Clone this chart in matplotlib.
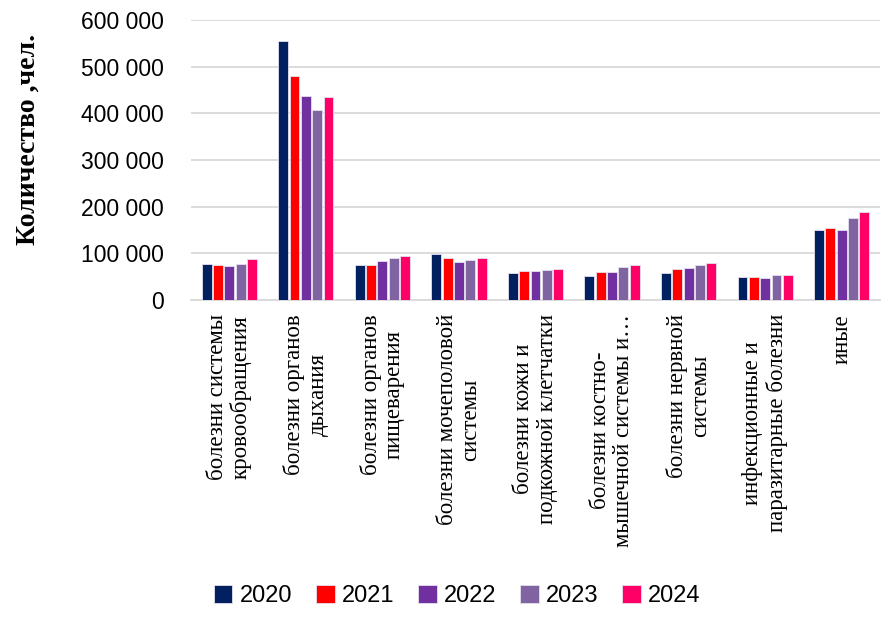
import numpy as np
import matplotlib
matplotlib.use("Agg")
import matplotlib.pyplot as plt

categories = [
    "болезни системы\nкровообращения",
    "болезни органов\nдыхания",
    "болезни органов\nпищеварения",
    "болезни мочеполовой\nсистемы",
    "болезни кожи и\nподкожной клетчатки",
    "болезни костно-\nмышечной системы и…",
    "болезни нервной\nсистемы",
    "инфекционные и\nпаразитарные болезни",
    "иные",
]
years = ["2020", "2021", "2022", "2023", "2024"]
colors = ["#002060", "#FF0000", "#7030A0", "#8064A2", "#FF0066"]

v2020 = [77000, 554000, 76000, 98000, 57000, 52000, 57000, 49000, 151000]
v2021 = [75000, 479000, 76000, 91000, 62000, 59000, 66000, 49000, 154000]
v2022 = [72000, 438000, 83000, 81000, 62000, 61000, 69000, 47000, 151000]
v2023 = [77000, 408000, 91000, 86000, 64000, 70000, 76000, 53000, 175000]
v2024 = [88000, 436000, 94000, 91000, 66000, 74000, 80000, 54000, 188000]
series = [v2020, v2021, v2022, v2023, v2024]

fig = plt.figure(figsize=(8.96, 6.37), dpi=100)
ax = fig.add_axes([191 / 896, 337 / 637, 689 / 896, 280 / 637])

x = np.arange(len(categories))
slot = 0.148
for i, (vals, col, yr) in enumerate(zip(series, colors, years)):
    ax.bar(x + (i - 2) * slot, vals, width=0.128, color=col, label=yr,
           edgecolor="#e6e0ee", linewidth=0.6, zorder=3)

ax.set_xlim(-0.5, len(categories) - 0.5)
ax.set_ylim(0, 600000)
ax.set_yticks(range(0, 600001, 100000))
ax.set_yticklabels([f"{v:,}".replace(",", " ") for v in range(0, 600001, 100000)],
                   fontsize=16.5, fontfamily="Liberation Sans")
ax.grid(axis="y", color="#d9d9d9", linewidth=1.3, zorder=0)
for s in ["top", "right", "left"]:
    ax.spines[s].set_visible(False)
ax.spines["bottom"].set_color("#d9d9d9")
ax.spines["bottom"].set_linewidth(1.3)
ax.tick_params(axis="y", length=0, pad=19.5)
ax.tick_params(axis="x", length=0, pad=10)
ax.set_xticks(x)
ax.set_xticklabels(categories, rotation=90, fontsize=16.5, fontfamily="Liberation Serif",
                   multialignment="center", linespacing=1.15)

fig.text(28 / 896, 1 - 139 / 637, "Количество ,чел.", rotation=90, ha="center", va="center",
         fontsize=20, fontweight="bold", fontfamily="Liberation Serif")

fig.legend(loc="center", bbox_to_anchor=(457 / 896, 1 - 596 / 637), ncol=5, frameon=False,
           prop={"family": "Liberation Sans", "size": 17}, handlelength=0.8, handleheight=0.8,
           handletextpad=0.3, columnspacing=1.0)

fig.savefig("out.png", dpi=100)
